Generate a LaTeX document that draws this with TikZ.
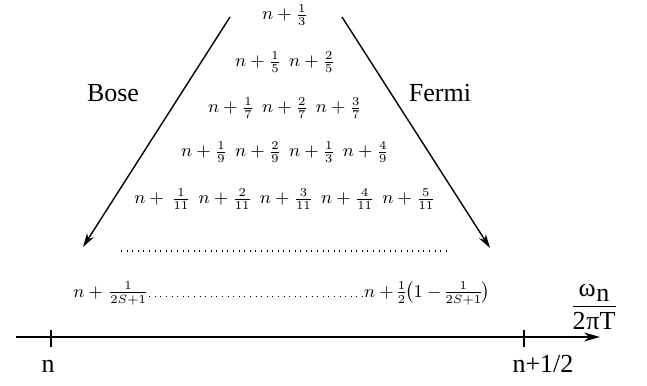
\documentclass[tikz,border=0pt]{standalone}
\usepackage[no-math]{fontspec}
\usepackage{amsmath}
\newfontfamily\tms{Liberation Serif}
\usetikzlibrary{arrows.meta}
\newcommand\gp{\hspace{4pt}}
\begin{document}
\begin{tikzpicture}[x=0.5pt,y=-0.5pt,
  lbl/.style={font=\tms\fontsize{13}{15}\selectfont, inner sep=0pt},
  row/.style={font=\fontsize{9}{11}\selectfont, inner sep=0pt},
  conn/.style={line width=0.7pt, -{Stealth[length=7pt,width=4pt]}},
  axis/.style={line width=0.7pt, -{Stealth[length=8pt,width=4.5pt]}},
  tick/.style={line width=0.7pt},
  dotline/.style={line width=0.6pt, dash pattern=on 0.5pt off 2.3pt}]
\useasboundingbox (0,0) rectangle (647,385);
% arrows
\coordinate (bs) at (230,17); \coordinate (be) at (83,247);
\coordinate (fs) at (342,17); \coordinate (fe) at (490,248);
\draw[conn] (bs) -- (be);
\draw[conn] (fs) -- (fe);
\node[lbl] (bose) at (113,93) {Bose};
\node[lbl] (fermi) at (440,93) {Fermi};
% rows
\node[row] (r1) at (285,15) {$n+\frac{1}{3}$};
\node[row] (r2) at (285,62) {$n+\frac{1}{5}\gp n+\frac{2}{5}$};
\node[row] (r3) at (285,108) {$n+\frac{1}{7}\gp n+\frac{2}{7}\gp n+\frac{3}{7}$};
\node[row] (r4) at (285,152) {$n+\frac{1}{9}\gp n+\frac{2}{9}\gp n+\frac{1}{3}\gp n+\frac{4}{9}$};
\node[row] (r5) at (285,199) {$n+\,\frac{1}{11}\gp n+\frac{2}{11}\gp n+\frac{3}{11}\gp n+\frac{4}{11}\gp n+\frac{5}{11}$};
\coordinate (d1) at (121,251); \coordinate (d2) at (448,251);
\draw[dotline] (d1) -- (d2);
% bottom row
\node[row, anchor=base west] (lo) at (73,297) {\nulldelimiterspace=0pt$n+\,\frac{1}{2S+1}$};
\node[row, anchor=base east] (hi) at (490,297) {\nulldelimiterspace=0pt$n+\frac{1}{2}\bigl(1-\frac{1}{2S+1}\bigr)$};
\draw[dotline] ([xshift=1.5pt,yshift=0.4pt]lo.base east) -- ([xshift=0.8pt,yshift=0.4pt]hi.base west);
% axis
\coordinate (a0) at (16,337); \coordinate (a1) at (600,337);
\draw[axis] (a0) -- (a1);
\coordinate (t1a) at (51,330); \coordinate (t1b) at (51,347);
\coordinate (t2a) at (524,330); \coordinate (t2b) at (524,347);
\draw[tick] (t1a) -- (t1b);
\draw[tick] (t2a) -- (t2b);
\node[lbl, anchor=base] (ln) at (48,372) {n};
\node[lbl, anchor=base] (lnh) at (543,372) {n+1/2};
\node[lbl] (w) at (594,307) {$\dfrac{\text{\tms ω\kern0.3pt\raisebox{-2.5pt}{n}}}{\text{\tms 2\kern0.5ptπT}}$};
\end{tikzpicture}
\end{document}
